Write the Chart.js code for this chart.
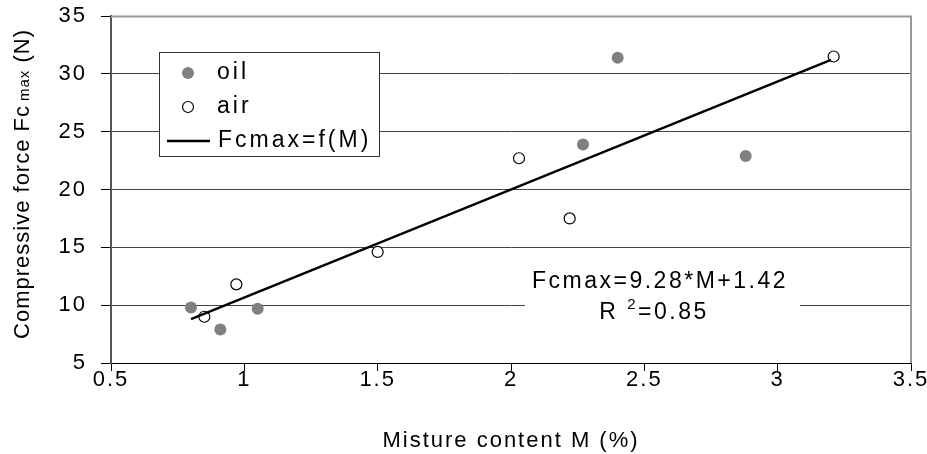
<!DOCTYPE html>
<html><head><meta charset="utf-8">
<script src="https://cdn.jsdelivr.net/npm/chart.js@4/dist/chart.umd.min.js"></script>
<style>html,body{margin:0;padding:0;background:#fff}#wrap{width:927px;height:454px}</style>
</head><body><div id="wrap"><canvas id="c" width="927" height="454"></canvas></div>
<script>
// ---- data ----
const oilM = [0.80, 0.91, 1.05, 2.27, 2.40, 2.88];
const oilF = [9.8, 7.9, 9.7, 23.9, 31.4, 22.9];
const airM = [0.85, 0.97, 1.50, 2.03, 2.22, 3.21];
const airF = [9.0, 11.8, 14.6, 22.7, 17.5, 31.5];
const fitM = [0.80, 3.20];
const fitF = [8.8, 31.2];
const seriesLabels = ['oil', 'air', 'Fcmax=f(M)'];
const xTicks = [0.5, 1, 1.5, 2, 2.5, 3, 3.5];
const yTicks = [5, 10, 15, 20, 25, 30, 35];
const xTitle = 'Misture content M (%)';
const yTitleParts = ['Compressive force Fc', 'max', ' (N)'];
const eqLine1 = 'Fcmax=9.28*M+1.42';
const eqLine2 = ['R ', '2', '=0.85'];

const FONT = '"Liberation Sans", Arial, sans-serif';
const pts = (xs, ys) => xs.map((x, i) => ({x: x, y: ys[i]}));

const decor = {
  id: 'decor',
  beforeLayout(chart) { chart.ctx.letterSpacing = '2px'; },
  beforeDraw(chart) { chart.ctx.letterSpacing = '2px'; },
  afterDatasetsDraw(chart) {
    const ctx = chart.ctx, a = chart.chartArea;
    ctx.save();
    // top/right border
    ctx.strokeStyle = '#999'; ctx.lineWidth = 2;
    ctx.beginPath();
    ctx.moveTo(a.left, a.top + 0.5); ctx.lineTo(a.right, a.top + 0.5); ctx.lineTo(a.right, a.bottom);
    ctx.stroke();
    // equation box
    ctx.letterSpacing = '2.5px';
    ctx.fillStyle = '#fff';
    ctx.fillRect(525, 265, 275, 64);
    ctx.fillStyle = '#000';
    ctx.textBaseline = 'middle';
    ctx.textAlign = 'center';
    const big = '23px ' + FONT, small = '15px ' + FONT;
    ctx.font = big;
    ctx.fillText(eqLine1, 660, 282);
    // line 2 with superscript
    ctx.textAlign = 'left';
    ctx.font = big; const w1 = ctx.measureText(eqLine2[0]).width;
    ctx.font = small; const w2 = ctx.measureText(eqLine2[1]).width;
    ctx.font = big; const w3 = ctx.measureText(eqLine2[2]).width;
    let x = 654 - (w1 + w2 + w3) / 2;
    ctx.font = big; ctx.fillText(eqLine2[0], x, 313); x += w1;
    ctx.font = small; ctx.fillText(eqLine2[1], x, 305); x += w2;
    ctx.font = big; ctx.fillText(eqLine2[2], x, 313);
    // legend box
    ctx.fillStyle = '#fff';
    ctx.fillRect(159.5, 52.5, 220, 104);
    ctx.strokeStyle = '#333'; ctx.lineWidth = 1;
    ctx.strokeRect(159.5, 52.5, 220, 104);
    const ds = chart.data.datasets;
    ctx.beginPath(); ctx.arc(188, 73, 6, 0, Math.PI * 2);
    ctx.fillStyle = ds[0].backgroundColor; ctx.fill();
    ctx.beginPath(); ctx.arc(188, 107, 5.5, 0, Math.PI * 2);
    ctx.fillStyle = '#fff'; ctx.fill(); ctx.strokeStyle = '#000'; ctx.lineWidth = 1.2; ctx.stroke();
    ctx.beginPath(); ctx.moveTo(167, 141); ctx.lineTo(210, 141);
    ctx.strokeStyle = '#000'; ctx.lineWidth = 2.4; ctx.stroke();
    ctx.fillStyle = '#000'; ctx.font = big; ctx.textAlign = 'left';
    ctx.letterSpacing = '3px';
    ctx.fillText(seriesLabels[0], 217, 73);
    ctx.fillText(seriesLabels[1], 217, 107);
    ctx.fillText(seriesLabels[2], 218, 141);
    // y title with subscript
    ctx.translate(23, 184);
    ctx.rotate(-Math.PI / 2);
    ctx.letterSpacing = '1px';
    const tb = '22px ' + FONT, ts = '15px ' + FONT;
    ctx.font = tb; const a1 = ctx.measureText(yTitleParts[0]).width;
    ctx.font = ts; const a2 = ctx.measureText(yTitleParts[1]).width;
    ctx.font = tb; const a3 = ctx.measureText(yTitleParts[2]).width;
    let tx = -(a1 + a2 + a3 + 4) / 2;
    ctx.font = tb; ctx.fillText(yTitleParts[0], tx, 0); tx += a1 + 4;
    ctx.font = ts; ctx.fillText(yTitleParts[1], tx, 2); tx += a2;
    ctx.font = tb; ctx.fillText(yTitleParts[2], tx, 0);
    ctx.restore();
  }
};

new Chart(document.getElementById('c'), {
  type: 'scatter',
  data: {
    datasets: [
      {label: seriesLabels[0], data: pts(oilM, oilF), backgroundColor: '#808080', borderColor: '#808080', pointRadius: 6, pointBorderWidth: 0, order: 2},
      {label: seriesLabels[1], data: pts(airM, airF), backgroundColor: '#fff', borderColor: '#000', pointRadius: 5.5, pointBorderWidth: 1.2, order: 2},
      {label: seriesLabels[2], data: pts(fitM, fitF), showLine: true, borderColor: '#000', borderWidth: 2.4, pointRadius: 0, backgroundColor: '#000', order: 1}
    ]
  },
  options: {
    responsive: false,
    devicePixelRatio: 1,
    animation: false,
    layout: {padding: {top: 16, right: 16, left: 0, bottom: 0}},
    plugins: {legend: {display: false}, tooltip: {enabled: false}},
    scales: {
      x: {
        type: 'linear', min: xTicks[0], max: xTicks[xTicks.length - 1],
        afterBuildTicks(s) { s.ticks = xTicks.map(v => ({value: v})); },
        afterFit(s) { s.height = 91; s.paddingLeft = 0; s.paddingRight = 0; },
        grid: {drawOnChartArea: false, drawTicks: true, tickLength: 8, tickColor: '#000'},
        border: {display: true, color: '#000', width: 1},
        ticks: {color: '#000', font: {size: 22, family: FONT}, padding: -4, callback: v => String(v)},
        title: {display: true, text: xTitle, color: '#000', font: {size: 22, family: FONT}, padding: {top: 12, bottom: 0}}
      },
      y: {
        min: yTicks[0], max: yTicks[yTicks.length - 1],
        afterBuildTicks(s) { s.ticks = yTicks.map(v => ({value: v})); },
        afterFit(s) { s.width = 111; s.paddingTop = 0; s.paddingBottom = 0; },
        grid: {drawOnChartArea: true, color: '#444', lineWidth: 1, drawTicks: true, tickLength: 10, tickColor: '#000'},
        border: {display: true, color: '#555', width: 2},
        ticks: {color: '#000', font: {size: 22, family: FONT}, padding: 14, callback: v => String(v)}
      }
    }
  },
  plugins: [decor]
});
</script>
</body></html>
